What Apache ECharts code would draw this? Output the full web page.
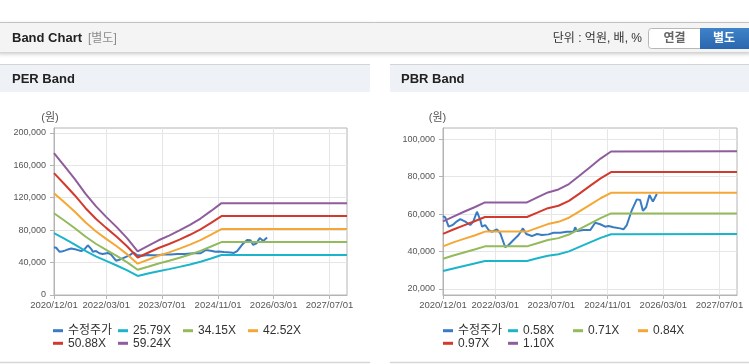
<!DOCTYPE html>
<html><head><meta charset="utf-8">
<script src="https://cdn.jsdelivr.net/npm/echarts@6/dist/echarts.min.js"></script>
<style>html,body{margin:0;padding:0;background:#fff}#c{width:749px;height:364px}</style>
</head><body><div id="c"></div><script>
// ---- data ----
const xTickDates = ['2020-12-01','2022-03-01','2023-07-01','2024-11-01','2026-03-01','2027-07-01'];
const perYTicks = [0, 40000, 80000, 120000, 160000, 200000];
const pbrYTicks = [20000, 40000, 60000, 80000, 100000];

const priceName = '수정주가';
const perNames = ['25.79X','34.15X','42.52X','50.88X','59.24X'];
const pbrNames = ['0.58X','0.71X','0.84X','0.97X','1.10X'];

const priceDates = ['2020-12-01','2020-12-20','2021-01-19','2021-02-15','2021-03-05','2021-04-01','2021-04-30','2021-06-13','2021-07-26','2021-08-21','2021-09-22','2021-10-21','2021-11-05','2021-12-03','2022-01-01','2022-01-31','2022-03-15','2022-04-13','2022-05-26','2022-06-24','2022-08-06','2022-09-19','2022-10-27','2022-11-25','2023-01-13','2023-02-26','2023-04-10','2023-06-06','2023-07-20','2023-09-16','2023-11-13','2024-01-10','2024-01-24','2024-02-08','2024-04-05','2024-06-03','2024-07-16','2024-08-29','2024-10-11','2024-11-09','2024-12-22','2025-02-18','2025-03-19','2025-04-17','2025-05-31','2025-07-13','2025-08-11','2025-09-04','2025-10-02','2025-10-31','2025-11-30','2026-01-03'];
const priceValues = [59000,58300,53300,54000,54700,56200,57300,56000,54200,56000,61300,56900,53300,54200,51500,50600,51900,49800,42300,43500,46200,48900,52400,49400,48300,49400,48900,49200,50100,50100,50600,50600,53000,51000,51500,51500,55400,54600,53300,53700,53000,52400,51900,54200,62200,67900,67600,61800,63700,70200,66700,70800];

const perBandDates = ['2020-12-01','2021-03-01','2021-06-01','2021-09-01','2021-12-01','2022-03-01','2022-06-01','2022-09-01','2022-12-01','2023-03-01','2023-06-01','2023-09-01','2023-12-01','2024-03-01','2024-06-01','2024-09-01','2024-12-01','2027-12-01'];
const per2579 = [76200,69400,62200,54400,47700,42000,36400,30400,23500,26400,29400,31900,34700,37700,41100,45100,49300,49300];
const per3415 = [100900,91900,82400,72100,63200,55600,48300,40200,31100,34900,38900,42200,45900,49900,54400,59800,65300,65300];
const per4252 = [125600,114400,102600,89700,78700,69200,60100,50100,38700,43500,48500,52600,57200,62100,67700,74400,81300,81300];
const per5088 = [150300,136900,122800,107400,94100,82800,71900,59900,46300,52100,58000,62900,68400,74300,81000,89000,97300,97300];
const per5924 = [175000,159400,142900,125000,109600,96400,83700,69800,53900,60600,67500,73300,79700,86500,94300,103700,113300,113300];

const pbrBandDates = ['2020-12-01','2021-03-01','2021-06-01','2021-09-01','2021-12-01','2022-12-01','2023-03-01','2023-06-01','2023-09-01','2023-12-01','2024-03-01','2024-06-01','2024-09-01','2024-12-01','2027-12-01'];
const pbr058 = [29600,31000,32300,33600,35000,35000,36400,37800,38600,40100,42500,44900,47300,49300,49400];
const pbr071 = [36200,37900,39500,41100,42800,42800,44500,46200,47200,49100,52000,55000,57900,60400,60400];
const pbr084 = [42800,44900,46800,48600,50700,50700,52700,54700,55900,58100,61500,65000,68500,71400,71500];
const pbr097 = [49500,51800,54000,56200,58500,58500,60800,63200,64500,67100,71000,75100,79100,82500,82600];
const pbr110 = [56100,58700,61300,63700,66300,66300,69000,71600,73200,76100,80500,85100,89700,93500,93600];

// ---- helpers ----
function ts(s){const p=s.split('-').map(Number);return new Date(p[0],p[1]-1,p[2]).getTime();}
function pad(n){return (n<10?'0':'')+n;}
function fmtDate(v){const d=new Date(v);return d.getFullYear()+'/'+pad(d.getMonth()+1)+'/'+pad(d.getDate());}
function pairs(dates, vals){return dates.map((d,i)=>[ts(d), vals[i]]);}
const colors = ['#3a7cc4','#1cb4c9','#93ba5b','#f5a735','#d23a2e','#8f5d9d'];
const FONT = '"Liberation Sans", "Noto Sans CJK KR", sans-serif';
const xTicks = xTickDates.map(ts);
const axisGray = '#b4b4b4';
const gridLine = '#e6e6e6';

function xAxisDef(gi){
  return {type:'value', gridIndex:gi, min:ts('2020-12-01'), max:ts('2027-12-01'), scale:true,
    axisLine:{show:true, lineStyle:{color:axisGray}},
    axisTick:{show:true, length:4, customValues:xTicks, lineStyle:{color:axisGray}},
    axisLabel:{customValues:xTicks, formatter:fmtDate, color:'#555', fontSize:9.5, fontFamily:FONT, margin:6, hideOverlap:false},
    splitLine:{show:true, lineStyle:{color:gridLine}}};
}
function yAxisDef(gi, min, max, ticks, padR){
  return {type:'value', gridIndex:gi, min:min, max:max,
    name:'(원)', nameLocation:'end', nameGap:5,
    nameTextStyle:{color:'#555', fontSize:11, fontFamily:FONT, align:'center', padding:[0,padR,0,0]},
    axisLine:{show:true, lineStyle:{color:axisGray}},
    axisTick:{show:true, length:4, customValues:ticks, lineStyle:{color:axisGray}},
    axisLabel:{customValues:ticks, formatter:v=>Number(v).toLocaleString('en-US'), color:'#555', fontSize:9, fontFamily:FONT, margin:8},
    splitLine:{show:true, lineStyle:{color:gridLine}}};
}
function line(name, data, color, xi){
  return {type:'line', name:name, data:data, xAxisIndex:xi, yAxisIndex:xi, color:color,
    showSymbol:false, symbol:'none', lineStyle:{width:2, color:color}, animation:false};
}
function legendDef(left, top, names){
  return {left:left, top:top, padding:0, itemGap:5, itemWidth:10, itemHeight:3, icon:'rect',
    data:names, selectedMode:false,
    textStyle:{color:'#333', fontSize:12, fontFamily:FONT, width:45, lineHeight:14}};
}

const series = [
  line(priceName, pairs(priceDates, priceValues), colors[0], 0),
  line(perNames[0], pairs(perBandDates, per2579), colors[1], 0),
  line(perNames[1], pairs(perBandDates, per3415), colors[2], 0),
  line(perNames[2], pairs(perBandDates, per4252), colors[3], 0),
  line(perNames[3], pairs(perBandDates, per5088), colors[4], 0),
  line(perNames[4], pairs(perBandDates, per5924), colors[5], 0),
  line(priceName, pairs(priceDates, priceValues), colors[0], 1),
  line(pbrNames[0], pairs(pbrBandDates, pbr058), colors[1], 1),
  line(pbrNames[1], pairs(pbrBandDates, pbr071), colors[2], 1),
  line(pbrNames[2], pairs(pbrBandDates, pbr084), colors[3], 1),
  line(pbrNames[3], pairs(pbrBandDates, pbr097), colors[4], 1),
  line(pbrNames[4], pairs(pbrBandDates, pbr110), colors[5], 1)
];

const graphic = [
  {type:'rect', z:0, shape:{x:-2,y:22,width:753,height:30}, style:{fill:'#f4f4f4', shadowBlur:4, shadowOffsetY:2, shadowColor:'rgba(0,0,0,0.22)'}},
  {type:'line', shape:{x1:0,y1:22.5,x2:749,y2:22.5}, style:{stroke:'#c2c2c2', lineWidth:1}},
  {type:'text', x:12, y:38.5, style:{text:'Band Chart', font:'bold 13px '+FONT, fill:'#222', verticalAlign:'middle'}},
  {type:'text', x:88, y:38.5, style:{text:'[별도]', font:'12px '+FONT, fill:'#8c8c8c', verticalAlign:'middle'}},
  {type:'text', x:642, y:38.5, style:{text:'단위 : 억원, 배, %', font:'12px '+FONT, fill:'#333', align:'right', verticalAlign:'middle'}},
  {type:'rect', shape:{x:648.5,y:28.5,width:52,height:20,r:[3,0,0,3]}, style:{fill:'#fff', stroke:'#b8b8b8', lineWidth:1}},
  {type:'text', x:674.5, y:38.5, style:{text:'연결', font:'bold 12px '+FONT, fill:'#666', align:'center', verticalAlign:'middle'}},
  {type:'rect', shape:{x:700,y:28,width:52,height:21,r:[0,3,3,0]}, style:{fill:new echarts.graphic.LinearGradient(0,0,0,1,[{offset:0,color:'#3f83c9'},{offset:1,color:'#2a66ad'}])}},
  {type:'text', x:724, y:38.5, style:{text:'별도', font:'bold 12px '+FONT, fill:'#fff', align:'center', verticalAlign:'middle'}},
  {type:'rect', shape:{x:0,y:64,width:370,height:28}, style:{fill:'#eef1f6'}},
  {type:'line', shape:{x1:0,y1:64.5,x2:370,y2:64.5}, style:{stroke:'#d4d4d4', lineWidth:1}},
  {type:'text', x:12, y:79, style:{text:'PER Band', font:'bold 13px '+FONT, fill:'#222', verticalAlign:'middle'}},
  {type:'rect', shape:{x:390,y:64,width:359,height:28}, style:{fill:'#eef1f6'}},
  {type:'line', shape:{x1:390,y1:64.5,x2:749,y2:64.5}, style:{stroke:'#d4d4d4', lineWidth:1}},
  {type:'text', x:401, y:79, style:{text:'PBR Band', font:'bold 13px '+FONT, fill:'#222', verticalAlign:'middle'}},
  {type:'line', shape:{x1:0,y1:362.5,x2:370,y2:362.5}, style:{stroke:'#d6d6d6', lineWidth:1.5}},
  {type:'line', shape:{x1:390,y1:362.5,x2:749,y2:362.5}, style:{stroke:'#d6d6d6', lineWidth:1.5}}
];

const chart = echarts.init(document.getElementById('c'), null, {renderer:'canvas'});
chart.setOption({
  animation:false,
  backgroundColor:'#fff',
  graphic: graphic,
  grid:[
    {left:54, top:128, width:293, height:167, show:true, borderColor:axisGray, borderWidth:1, backgroundColor:'#fff'},
    {left:443, top:128, width:294, height:167, show:true, borderColor:axisGray, borderWidth:1, backgroundColor:'#fff'}
  ],
  xAxis:[xAxisDef(0), xAxisDef(1)],
  yAxis:[yAxisDef(0, 0, 206000, perYTicks, 8), yAxisDef(1, 16800, 106050, pbrYTicks, 11)],
  legend:[
    legendDef(53, 323.7, [priceName, perNames[0], perNames[1], perNames[2]]),
    legendDef(53, 336.3, [perNames[3], perNames[4]]),
    legendDef(443, 323.7, [priceName, pbrNames[0], pbrNames[1], pbrNames[2]]),
    legendDef(443, 336.3, [pbrNames[3], pbrNames[4]])
  ],
  series: series
});
</script></body></html>
